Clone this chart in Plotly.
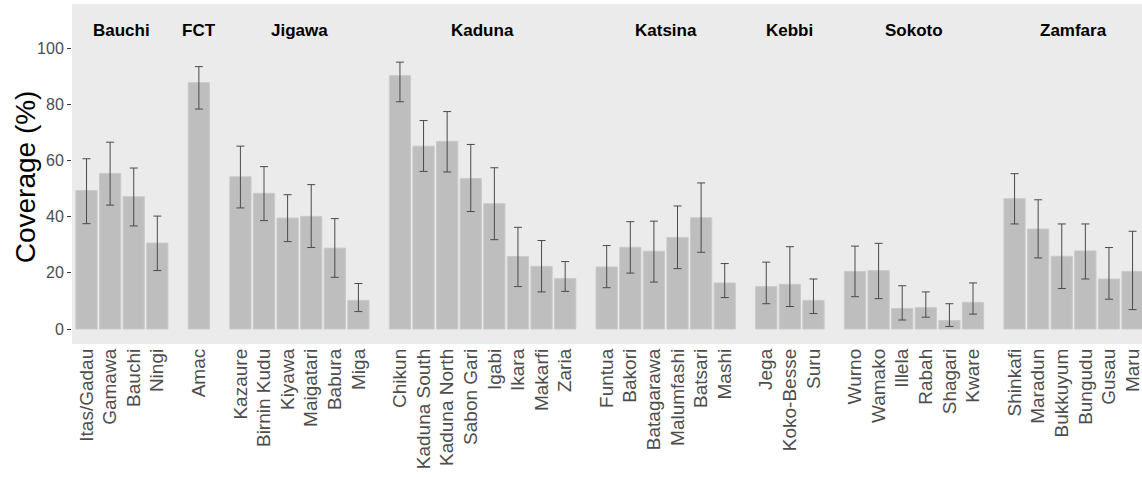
import plotly.graph_objects as go

states = ["Bauchi", "FCT", "Jigawa", "Kaduna", "Katsina", "Kebbi", "Sokoto", "Zamfara"]
lgas = [
    ["Itas/Gadau", "Gamawa", "Bauchi", "Ningi"],
    ["Amac"],
    ["Kazaure", "Birnin Kudu", "Kiyawa", "Maigatari", "Babura", "Miga"],
    ["Chikun", "Kaduna South", "Kaduna North", "Sabon Gari", "Igabi", "Ikara", "Makarfi", "Zaria"],
    ["Funtua", "Bakori", "Batagarawa", "Malumfashi", "Batsari", "Mashi"],
    ["Jega", "Koko-Besse", "Suru"],
    ["Wurno", "Wamako", "Illela", "Rabah", "Shagari", "Kware"],
    ["Shinkafi", "Maradun", "Bukkuyum", "Bungudu", "Gusau", "Maru"],
]
coverage = [
    [49.3, 55.4, 47.1, 30.6],
    [87.7],
    [54.2, 48.3, 39.5, 40.1, 28.8, 10.2],
    [90.2, 65.1, 66.8, 53.6, 44.6, 25.8, 22.3, 18.0],
    [22.1, 29.1, 27.7, 32.6, 39.6, 16.4],
    [15.1, 15.9, 10.2],
    [20.5, 20.8, 7.3, 7.6, 3.0, 9.5],
    [46.4, 35.6, 25.9, 27.8, 17.8, 20.5],
]
upper = [
    [60.6, 66.5, 57.3, 40.2],
    [93.4],
    [65.1, 57.8, 47.8, 51.4, 39.3, 16.2],
    [95.0, 74.2, 77.4, 65.7, 57.4, 36.2, 31.5, 24.0],
    [29.7, 38.2, 38.4, 43.8, 52.0, 23.3],
    [23.8, 29.3, 17.8],
    [29.5, 30.5, 15.4, 13.2, 9.0, 16.4],
    [55.3, 46.0, 37.4, 37.4, 29.0, 34.8],
]
lower = [
    [37.5, 44.1, 36.7, 20.8],
    [78.3],
    [43.1, 38.6, 31.1, 29.0, 18.4, 6.2],
    [80.9, 56.1, 55.9, 41.8, 31.8, 15.1, 13.2, 13.4],
    [14.7, 19.9, 16.7, 21.5, 27.3, 11.2],
    [9.0, 8.0, 5.5],
    [11.5, 10.8, 3.2, 4.2, 0.9, 5.3],
    [37.4, 25.3, 14.4, 17.8, 10.6, 6.9],
]

gap = 0.76  # extra space between state panels
x, names, vals, ep, em, centers = [], [], [], [], [], []
pos = 0.0
for g, (state, lg) in enumerate(zip(states, lgas)):
    start = pos
    for i, name in enumerate(lg):
        v = coverage[g][i]
        x.append(pos)
        names.append(name)
        vals.append(v)
        ep.append(upper[g][i] - v)
        em.append(v - lower[g][i])
        pos += 1
    centers.append((start + pos - 1) / 2)
    pos += gap

fig = go.Figure()
fig.add_trace(go.Bar(
    x=x, y=vals, width=0.9,
    marker=dict(color="#BEBEBE", line=dict(color="#CACACA", width=1)),
    error_y=dict(type="data", symmetric=False, array=ep, arrayminus=em,
                 color="#4a4a4a", thickness=1, width=4),
    hoverinfo="skip",
))

for state, cx in zip(states, centers):
    fig.add_annotation(x=cx, y=106.4, text="<b>%s</b>" % state, showarrow=False,
                       font=dict(size=17, color="black"), xanchor="center", yanchor="middle")

fig.add_annotation(xref="paper", yref="paper", x=-47 / 1070, y=(343.7 - 177) / 340,
                   text="Coverage (%)", textangle=-90, showarrow=False,
                   font=dict(size=28, color="black"), xanchor="center", yanchor="middle")

fig.update_layout(
    width=1142, height=477,
    margin=dict(l=72, r=0, t=4, b=133),
    plot_bgcolor="#EBEBEB", paper_bgcolor="white",
    font=dict(family="Liberation Sans, Arial, sans-serif"),
    showlegend=False,
    xaxis=dict(range=[-0.615, x[-1] + 0.40], tickmode="array", tickvals=x, ticktext=names,
               tickangle=-90, tickfont=dict(size=19, color="#4D4D4D"),
               ticklabeloverflow="allow",
               showgrid=False, zeroline=False, ticks=""),
    yaxis=dict(range=[-5.34, 115.7], tickvals=[0, 20, 40, 60, 80, 100],
               tickfont=dict(size=16, color="#4D4D4D"), ticks="outside", ticklen=4,
               tickcolor="#333333", showgrid=False, zeroline=False),
)

fig.write_html("out.html", config={"displayModeBar": False},
               post_script="document.body.style.margin='0';")
